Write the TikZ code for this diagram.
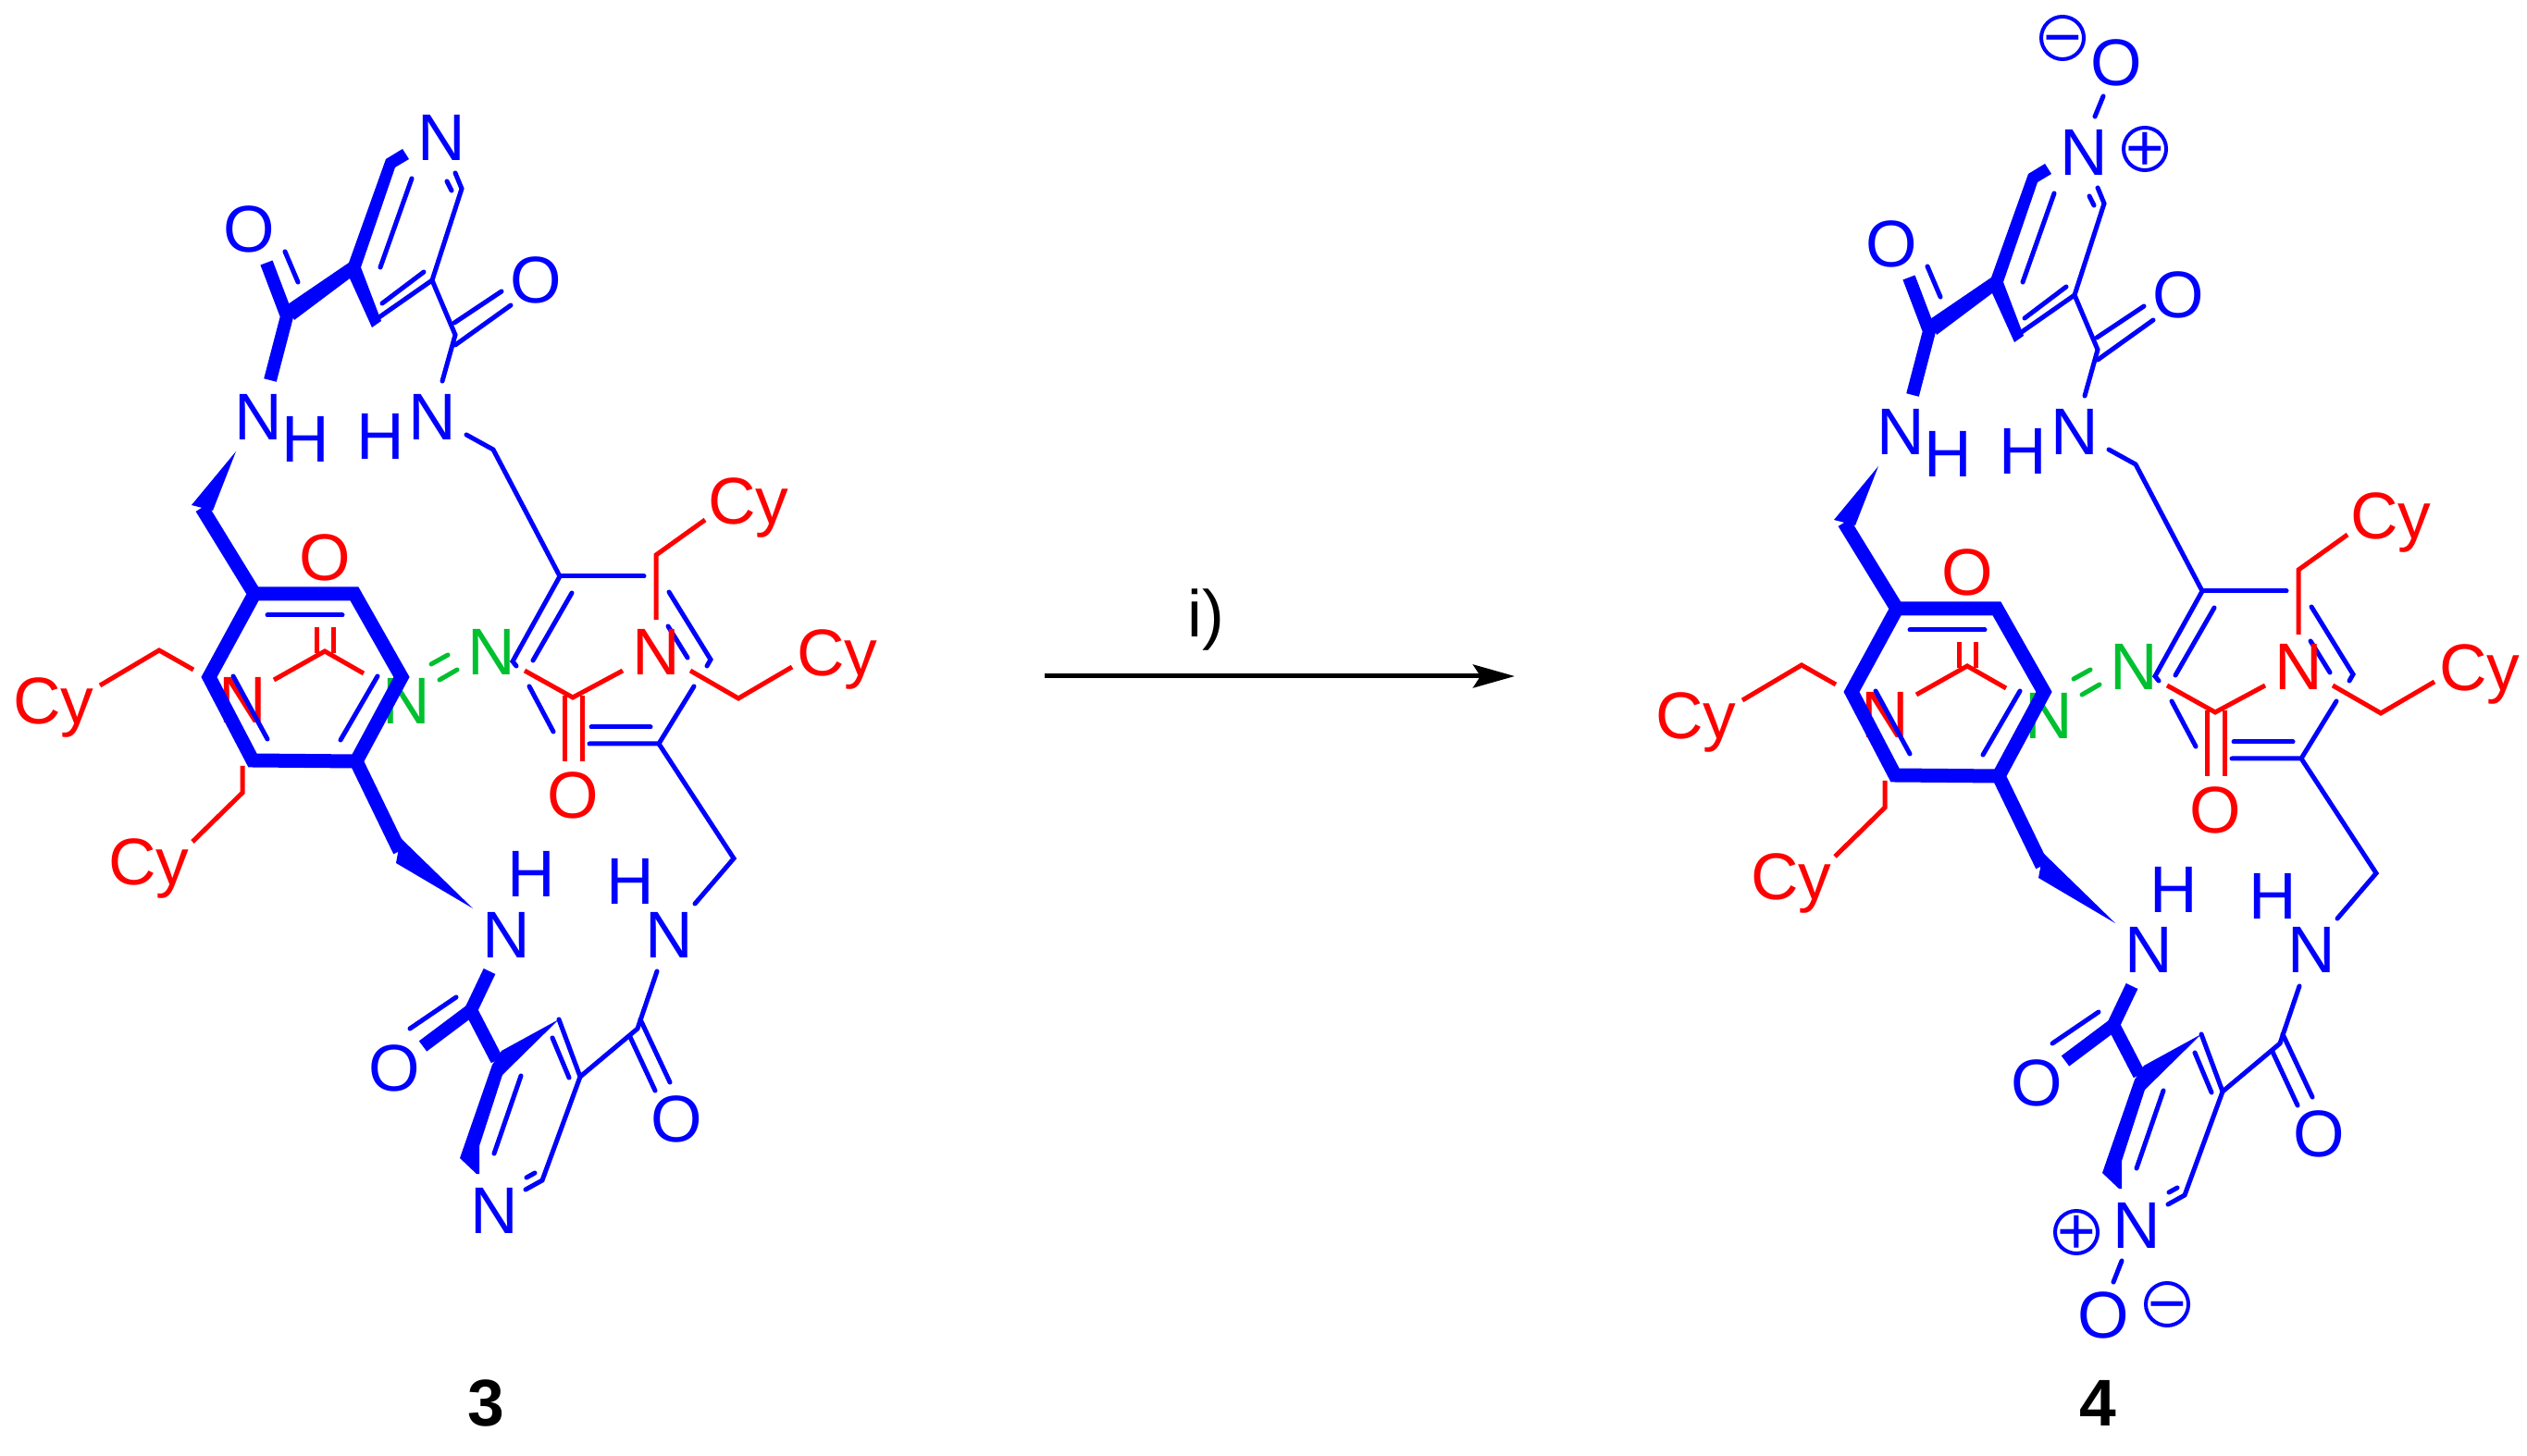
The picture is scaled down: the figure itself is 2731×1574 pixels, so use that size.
\documentclass[tikz,border=0pt]{standalone}
\usepackage{fontspec}
\setmainfont{Liberation Sans}
\usetikzlibrary{arrows.meta}
\definecolor{atomgreen}{RGB}{0,192,48}
\tikzset{
	bondthin/.style={draw=blue,line width=0.05cm,line cap=round,line join=miter},
	bondbold/.style={draw=blue,line width=0.14cm,line join=miter},
	bondring/.style={draw=blue,line width=0.15cm,line join=miter},
	bondred/.style={draw=red,line width=0.05cm,line join=miter},
	bondgreen/.style={draw=atomgreen,line width=0.05cm,line cap=round},
	wedge/.style={fill=blue,draw=none},
	atom/.style={anchor=base,inner sep=0pt,font=\fontsize{20.3}{24}\selectfont},
	atomblue/.style={atom,text=blue},
	atomred/.style={atom,text=red},
	atomgrn/.style={atom,text=atomgreen},
	charge/.style={circle,draw=blue,text=blue,line width=0.04cm,inner sep=0pt,minimum size=0.46cm,font=\fontsize{20.3}{24}\selectfont},
	compound/.style={anchor=base,inner sep=0pt,font=\fontsize{20.3}{24}\selectfont\bfseries}
}
\newcommand{\chargesign}[1]{\makebox[0pt]{\raisebox{-0.33em}[0pt][0pt]{#1}}}

\begin{document}
\begin{tikzpicture}[x=0.01cm,y=-0.01cm]
	\useasboundingbox (0,0) rectangle (2731,1574);

	\foreach \dx/\dy/\tag in {0/0/lft,1775/16/rgt}{
	\begin{scope}[shift={(\dx,\dy)},name prefix=\tag-]
		%atoms that lie under the bonds
		\node[atomred] (nl) at (262,782) {N};
		\node[atomgrn] (ga) at (531,730) {N};
		\node[atomgrn] (gb) at (439,783) {N};

		%central ring, clockwise from top left
		\coordinate (ra) at (275,642);
		\coordinate (rb) at (383,642);
		\coordinate (rc) at (434,732);
		\coordinate (rd) at (385,823);
		\coordinate (re) at (273,822);
		\coordinate (rf) at (226,732);
		\draw[bondring] (ra) -- (rb) -- (rc) -- (rd) -- (re) -- (rf) -- cycle;
		\coordinate (ia) at (289,665);
		\coordinate (ib) at (370,665);
		\coordinate (ic) at (408,731);
		\coordinate (id) at (368,800);
		\coordinate (ie) at (252,731);
		\coordinate (if) at (289,799);
		\draw[bondthin] (ia) -- (ib);
		\draw[bondthin] (ic) -- (id);
		\draw[bondthin] (ie) -- (if);

		%upper arm, thick side
		\coordinate (ua) at (218,549);
		\coordinate (ub) at (255,488);
		\coordinate (uc) at (207,546);
		\coordinate (ud) at (230,552);
		\draw[bondring] (ra) -- (ua);
		\fill[wedge] (uc) -- (ub) -- (ud) -- cycle;
		\node[atomblue] (na) at (279,476) {N};
		\node[atomblue] (ha) at (330,500) {H};
		\coordinate (ue) at (292,411);
		\coordinate (uf) at (310,342);
		\coordinate (ug) at (288,284);
		\coordinate (uo) at (308,272);
		\coordinate (up) at (322,305);
		\draw[bondbold] (ug) -- (uf) -- (ue);
		\draw[bondthin] (uo) -- (up);
		\node[atomblue] (oa) at (269,273) {O};

		%upper pyridine, thick edges are one filled outline
		\coordinate (pa) at (404,347);
		\coordinate (pb) at (467,303);
		\coordinate (pc) at (499,204);
		\coordinate (pd) at (492,187);
		\fill[wedge] (311,329) -- (377,284) -- (417,172) -- (435,161) -- (442,172) -- (427,181) -- (390,289) -- (412,347) -- (402,354) -- (378,301) -- (318,346) -- cycle;
		\draw[bondthin] (pa) -- (pb) -- (pc) -- (pd);
		\draw[bondthin] (413,328) coordinate (pg) -- (458,294) coordinate (ph);
		\draw[bondthin] (445,193) coordinate (pi) -- (411,289) coordinate (pj);
		\draw[bondthin] (488,206) coordinate (pk) -- (483,196) coordinate (pl);
		\node[atomblue] (nt) at (477,174) {N};

		%upper arm, thin side
		\coordinate (va) at (492,362);
		\coordinate (vb) at (491,349);
		\coordinate (vc) at (542,315);
		\coordinate (vd) at (492,373);
		\coordinate (ve) at (552,330);
		\coordinate (vf) at (478,412);
		\coordinate (vg) at (504,470);
		\coordinate (vh) at (533,486);
		\coordinate (vi) at (605,623);
		\draw[bondthin] (pb) -- (va) -- (vf);
		\draw[bondthin] (vb) -- (vc);
		\draw[bondthin] (vd) -- (ve);
		\draw[bondthin] (vg) -- (vh) -- (vi);
		\node[atomblue] (ob) at (579,328) {O};
		\node[atomblue] (nb) at (467,476) {N};
		\node[atomblue] (hb) at (411,497) {H};

		%second ring, all thin
		\coordinate (sa) at (696,623);
		\coordinate (sb) at (723,640);
		\coordinate (sc) at (768,713);
		\coordinate (sd) at (764,720);
		\coordinate (se) at (722,677);
		\coordinate (sf) at (743,711);
		\coordinate (sg) at (750,742);
		\coordinate (sh) at (712,804);
		\coordinate (si) at (637,804);
		\coordinate (sj) at (639,786);
		\coordinate (sk) at (703,786);
		\coordinate (sl) at (572,742);
		\coordinate (sm) at (598,791);
		\coordinate (sn) at (554,715);
		\coordinate (so) at (558,720);
		\coordinate (sp) at (618,641);
		\coordinate (sq) at (576,714);
		\draw[bondthin] (vi) -- (sa);
		\draw[bondthin] (sb) -- (sc) -- (sd);
		\draw[bondthin] (se) -- (sf);
		\draw[bondthin] (sg) -- (sh) -- (si);
		\draw[bondthin] (sj) -- (sk);
		\draw[bondthin] (sl) -- (sm);
		\draw[bondthin] (vi) -- (sn) -- (so);
		\draw[bondthin] (sp) -- (sq);

		%lower arm, thin side
		\coordinate (wa) at (793,928);
		\coordinate (wb) at (751,977);
		\coordinate (wc) at (710,1050);
		\coordinate (wd) at (689,1112);
		\coordinate (we) at (692,1102);
		\coordinate (wf) at (724,1170);
		\coordinate (wg) at (681,1121);
		\coordinate (wh) at (708,1179);
		\coordinate (wi) at (627,1164);
		\draw[bondthin] (sh) -- (wa) -- (wb);
		\draw[bondthin] (wc) -- (wd) -- (wi);
		\draw[bondthin] (we) -- (wf);
		\draw[bondthin] (wg) -- (wh);
		\node[atomblue] (nc) at (723,1035) {N};
		\node[atomblue] (hc) at (681,978) {H};
		\node[atomblue] (oc) at (731,1234) {O};

		%lower arm, thick side
		\coordinate (xa) at (432,920);
		\coordinate (xb) at (433,906);
		\coordinate (xc) at (428,933);
		\coordinate (xd) at (511,982);
		\draw[bondring] (rd) -- (xa);
		\fill[wedge] (xb) -- (xd) -- (xc) -- cycle;
		\node[atomblue] (nd) at (547,1035) {N};
		\node[atomblue] (hd) at (574,970) {H};
		\coordinate (xe) at (529,1050);
		\coordinate (xf) at (509,1092);
		\coordinate (xg) at (457,1131);
		\coordinate (xh) at (493,1078);
		\coordinate (xi) at (443,1112);
		\coordinate (xj) at (537,1146);
		\draw[bondbold] (xe) -- (xf) -- (xj);
		\draw[bondbold] (xf) -- (xg);
		\draw[bondthin] (xh) -- (xi);
		\node[atomblue] (od) at (426,1179) {O};

		%lower pyridine, thick edges are one filled outline
		\coordinate (yb) at (604,1102);
		\coordinate (yf) at (563,1163);
		\coordinate (yg) at (534,1247);
		\coordinate (yh) at (597,1122);
		\coordinate (yi) at (615,1165);
		\coordinate (yj) at (586,1276);
		\coordinate (yk) at (568,1286);
		\coordinate (yl) at (569,1273);
		\coordinate (ym) at (578,1268);
		\fill[wedge] (532,1151) -- (497,1252) -- (515,1269) -- (518,1269) -- (518,1239) -- (543,1162) -- (yb) -- (542,1136) -- cycle;
		\draw[bondthin] (yf) -- (yg);
		\draw[bondthin] (yb) -- (wi) -- (yj) -- (yk);
		\draw[bondthin] (yh) -- (yi);
		\draw[bondthin] (yl) -- (ym);
		\node[atomblue] (ne) at (534,1333) {N};

		%red side chains and urea
		\coordinate (ca) at (351,704);
		\coordinate (cb) at (296,735);
		\coordinate (cc) at (393,728);
		\coordinate (cd) at (342,678);
		\coordinate (ce) at (342,706);
		\coordinate (cf) at (360,678);
		\coordinate (cg) at (360,706);
		\draw[bondred] (cb) -- (ca) -- (cc);
		\draw[bondred] (cd) -- (ce);
		\draw[bondred] (cf) -- (cg);
		\node[atomred] (oe) at (351,628) {O};
		\coordinate (da) at (209,724);
		\coordinate (db) at (172,703);
		\coordinate (dc) at (108,741);
		\draw[bondred] (da) -- (db) -- (dc);
		\node[atomred] (cya) at (58,783) {Cy};
		\coordinate (dd) at (262,828);
		\coordinate (de) at (262,857);
		\coordinate (df) at (208,910);
		\draw[bondred] (dd) -- (de) -- (df);
		\node[atomred] (cyb) at (161,956) {Cy};
		\coordinate (ea) at (709,670);
		\coordinate (eb) at (709,600);
		\coordinate (ec) at (762,562);
		\draw[bondred] (ea) -- (eb) -- (ec);
		\node[atomred] (cyc) at (809,567) {Cy};
		\coordinate (ed) at (746,725);
		\coordinate (ee) at (798,755);
		\coordinate (ef) at (856,721);
		\draw[bondred] (ed) -- (ee) -- (ef);
		\node[atomred] (cyd) at (905,731) {Cy};
		\coordinate (fa) at (567,725);
		\coordinate (fb) at (619,754);
		\coordinate (fc) at (673,725);
		\coordinate (fd) at (610,752);
		\coordinate (fe) at (610,823);
		\coordinate (ff) at (629,752);
		\coordinate (fg) at (629,823);
		\draw[bondred] (fa) -- (fb) -- (fc);
		\draw[bondred] (fd) -- (fe);
		\draw[bondred] (ff) -- (fg);
		\node[atomred] (nr) at (709,730) {N};
		\node[atomred] (of) at (619,885) {O};

		%green double bond
		\coordinate (ga1) at (466,718);
		\coordinate (ga2) at (484,708);
		\coordinate (gb1) at (475,735);
		\coordinate (gb2) at (494,724);
		\draw[bondgreen] (ga1) -- (ga2);
		\draw[bondgreen] (gb1) -- (gb2);
	\end{scope}
	}

	%N-oxide groups of 4
	\node[atomblue] (oxa) at (2287,93) {O};
	\node[charge] (mia) at (2229,41) {\chargesign{−}};
	\node[charge] (pla) at (2318,161) {\chargesign{+}};
	\coordinate (oa1) at (2273,104);
	\coordinate (oa2) at (2264,126);
	\draw[bondthin] (oa1) -- (oa2);
	\node[atomblue] (oxb) at (2273,1446) {O};
	\node[charge] (mib) at (2342,1410) {\chargesign{−}};
	\node[charge] (plb) at (2244,1332) {\chargesign{+}};
	\coordinate (ob1) at (2293,1363);
	\coordinate (ob2) at (2284,1386);
	\draw[bondthin] (ob1) -- (ob2);

	%reaction arrow and compound numbers
	\coordinate (start) at (1129,731);
	\coordinate (stop) at (1637,731);
	\draw[line width=0.05cm,-{Stealth[length=0.45cm,width=0.25cm,inset=0.08cm]}] (start) -- (stop);
	\node[atom] (cond) at (1303,689) {i)};
	\node[compound] (three) at (525,1541) {3};
	\node[compound] (four) at (2267,1541) {4};
\end{tikzpicture}
\end{document}
